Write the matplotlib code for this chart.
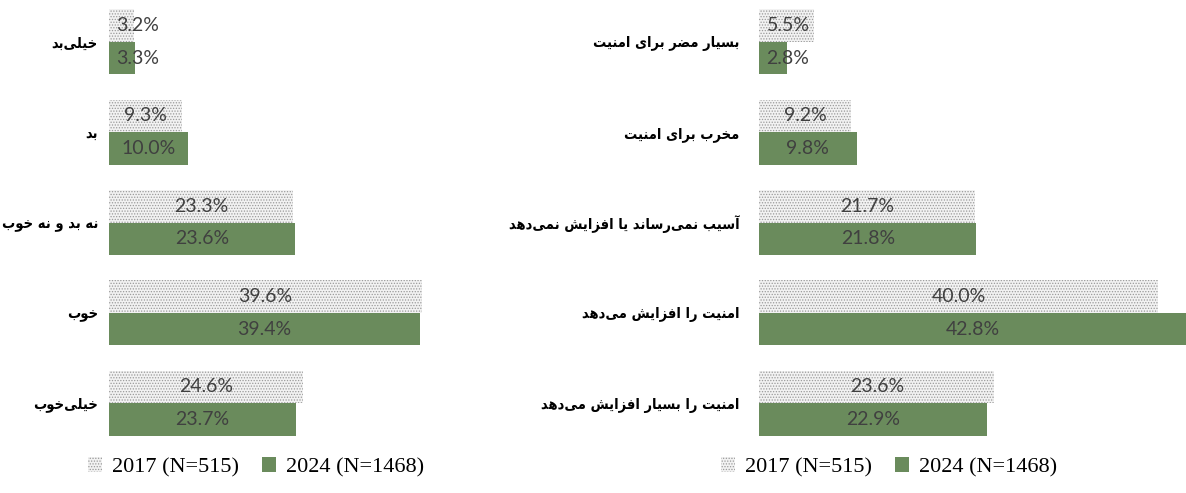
import numpy as np
import matplotlib.pyplot as plt
from matplotlib.patches import Patch

plt.rcParams['hatch.linewidth'] = 0.6

# data
left_labels = ['خیلی‌بد', 'بد', 'نه بد و نه خوب', 'خوب', 'خیلی‌خوب']
left_2017 = [3.2, 9.3, 23.3, 39.6, 24.6]
left_2024 = [3.3, 10.0, 23.6, 39.4, 23.7]

right_labels = ['بسیار مضر برای امنیت', 'مخرب برای امنیت',
                'آسیب نمی‌رساند یا افزایش نمی‌دهد',
                'امنیت را افزایش می‌دهد', 'امنیت را بسیار افزایش می‌دهد']
right_2017 = [5.5, 9.2, 21.7, 40.0, 23.6]
right_2024 = [2.8, 9.8, 21.8, 42.8, 22.9]

series_names = ['2017 (N=515)', '2024 (N=1468)']

# minimal persian shaping (matplotlib has no bidi / joining)
FORMS = {
    'ا': ('\uFE8D', '\uFE8E', None, None),
    'آ': ('\uFE81', '\uFE82', None, None),
    'ب': ('\uFE8F', '\uFE90', '\uFE91', '\uFE92'),
    'ت': ('\uFE95', '\uFE96', '\uFE97', '\uFE98'),
    'خ': ('\uFEA5', '\uFEA6', '\uFEA7', '\uFEA8'),
    'د': ('\uFEA9', '\uFEAA', None, None),
    'ر': ('\uFEAD', '\uFEAE', None, None),
    'ز': ('\uFEAF', '\uFEB0', None, None),
    'س': ('\uFEB1', '\uFEB2', '\uFEB3', '\uFEB4'),
    'ش': ('\uFEB5', '\uFEB6', '\uFEB7', '\uFEB8'),
    'ض': ('\uFEBD', '\uFEBE', '\uFEBF', '\uFEC0'),
    'ف': ('\uFED1', '\uFED2', '\uFED3', '\uFED4'),
    'ل': ('\uFEDD', '\uFEDE', '\uFEDF', '\uFEE0'),
    'م': ('\uFEE1', '\uFEE2', '\uFEE3', '\uFEE4'),
    'ن': ('\uFEE5', '\uFEE6', '\uFEE7', '\uFEE8'),
    'ه': ('\uFEE9', '\uFEEA', '\uFEEB', '\uFEEC'),
    'و': ('\uFEED', '\uFEEE', None, None),
    'ی': ('\uFBFC', '\uFBFD', '\uFBFE', '\uFBFF'),
}


def shape(s):
    out = []
    for k, c in enumerate(s):
        if c not in FORMS:
            if c != '\u200c':
                out.append(c)
            continue
        prev = s[k - 1] if k > 0 else ''
        nxt = s[k + 1] if k + 1 < len(s) else ''
        jp = prev in FORMS and FORMS[prev][2] is not None
        jn = FORMS[c][2] is not None and nxt in FORMS
        iso, fin, ini, med = FORMS[c]
        if jp and jn:
            out.append(med)
        elif jp:
            out.append(fin)
        elif jn:
            out.append(ini)
        else:
            out.append(iso)
    return ''.join(reversed(out))


green = '#6a8b5c'
dots_face = '#f2f2f2'
dots_edge = '#9a9a9a'
txt_col = '#404040'

fig = plt.figure(figsize=(11.86, 4.93), dpi=100)
W, H = 1186, 493

def panel(x0, x1, xmax, labels, v17, v24, pad, legx):
    ax = fig.add_axes([x0 / W, (H - 450) / H, (x1 - x0) / W, 450 / H])
    y = np.arange(len(labels))
    h = 0.36
    ax.barh(y - h / 2, v17, height=h, color=dots_face, edgecolor=dots_edge,
            hatch='......', linewidth=0)
    ax.barh(y + h / 2, v24, height=h, color=green, linewidth=0)
    ax.set_xlim(0, xmax)
    ax.set_ylim(4.52, -0.465)
    pxu = (x1 - x0) / xmax
    for yy, vals in ((y - h / 2, v17), (y + h / 2, v24)):
        for yi, v in zip(yy, vals):
            xc = max(v / 2, 29 / pxu)
            ax.text(xc, yi, f'{v:.1f}%', ha='center', va='center',
                    fontsize=14, color=txt_col, family='Lato')
    ax.set_yticks(y)
    ax.set_yticklabels([shape(l) for l in labels], fontsize=10.5,
                       fontweight='bold', family='DejaVu Sans',
                       fontstretch='condensed')
    ax.tick_params(axis='y', length=0, pad=pad)
    ax.set_xticks([])
    for sp in ax.spines.values():
        sp.set_visible(False)
    handles = [Patch(facecolor=dots_face, edgecolor=dots_edge, hatch='......', linewidth=0),
               Patch(facecolor=green, linewidth=0)]
    fig.legend(handles, series_names, loc='center', bbox_to_anchor=(legx / W, 1 - 467 / H),
               ncol=2, frameon=False, prop={'family': 'Liberation Serif', 'size': 16},
               handlelength=0.65, handleheight=0.7, handletextpad=0.45, columnspacing=1.0)
    return ax


panel(109, 425, 40.0, left_labels, left_2017, left_2024, 8, 256)
panel(759, 1186, 42.8, right_labels, right_2017, right_2024, 14, 889)

fig.savefig('out.png', dpi=100)
